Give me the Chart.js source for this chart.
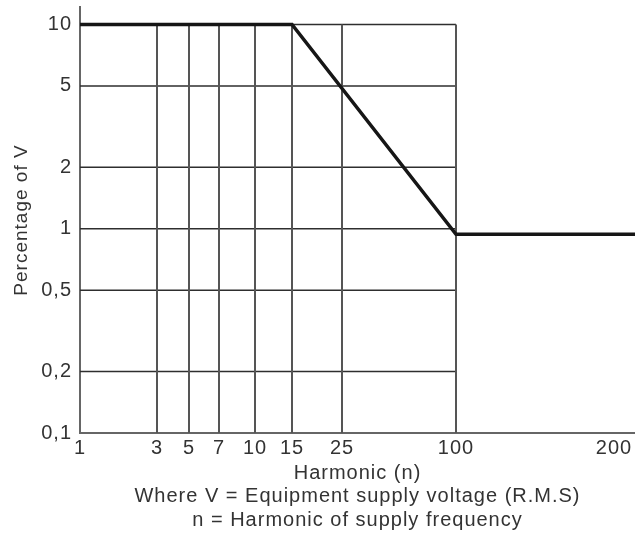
<!DOCTYPE html>
<html>
<head>
<meta charset="utf-8">
<script src="https://cdn.jsdelivr.net/npm/chart.js@4.4.1/dist/chart.umd.min.js"></script>
<style>
  html, body { margin: 0; padding: 0; background: #fff; }
  #wrap { width: 635px; height: 533px; }
</style>
</head>
<body>
<div id="wrap"><canvas id="limitChart"></canvas></div>
<script>
// harmonic limit curve (percentage of supply voltage)
var harmonic = [1, 15, 100, 212];
var percentOfV = [10, 10, 0.94, 0.94];

// x axis: tick labels and grid positions (harmonic order)
var xTicks = [1, 3, 5, 7, 10, 15, 25, 100, 200];
var xGrid = [1, 3, 5, 7, 10, 15, 25, 100];
// y axis: log ticks
var yTicks = [0.1, 0.2, 0.5, 1, 2, 5, 10];
var yTickLabels = ['0,1', '0,2', '0,5', '1', '2', '5', '10'];

// the original drawing does not space harmonics evenly on a log axis,
// so the x scale is piecewise: [value, share of axis width]
var xStops = [[1, 0], [3, 77/555], [5, 109/555], [7, 139/555], [10, 175/555],
              [15, 212/555], [25, 262/555], [100, 376/555], [200, 534/555], [212, 1]];

class PiecewiseScale extends Chart.LinearScale {
  toDecimal(v) {
    for (var i = 1; i < xStops.length; i++) {
      var a = xStops[i - 1], b = xStops[i];
      if (v <= b[0] || i === xStops.length - 1) {
        return a[1] + (v - a[0]) / (b[0] - a[0]) * (b[1] - a[1]);
      }
    }
    return 0;
  }
  getPixelForValue(value) {
    if (value === null || isNaN(value)) return NaN;
    return this.getPixelForDecimal(this.toDecimal(value));
  }
  getValueForPixel(pixel) {
    var d = this.getDecimalForPixel(pixel);
    for (var i = 1; i < xStops.length; i++) {
      var a = xStops[i - 1], b = xStops[i];
      if (d <= b[1] || i === xStops.length - 1) {
        return a[0] + (d - a[1]) / (b[1] - a[1]) * (b[0] - a[0]);
      }
    }
    return this.min;
  }
}
PiecewiseScale.id = 'piecewise';
PiecewiseScale.defaults = Chart.LinearScale.defaults;
Chart.register(PiecewiseScale);

// grid only covers the 1..100 / 0.1..10 box
var boxGrid = {
  id: 'boxGrid',
  beforeDatasetsDraw: function(chart) {
    var ctx = chart.ctx, x = chart.scales.x, y = chart.scales.y;
    var xl = x.getPixelForValue(xGrid[0]), xr = x.getPixelForValue(xGrid[xGrid.length - 1]);
    var yb = y.getPixelForValue(yTicks[0]), yt = y.getPixelForValue(yTicks[yTicks.length - 1]);
    ctx.save();
    ctx.strokeStyle = '#2e2e2e';
    ctx.lineWidth = 1.3;
    yTicks.slice(1).forEach(function(v) {
      var py = y.getPixelForValue(v);
      ctx.beginPath(); ctx.moveTo(xl, py); ctx.lineTo(xr, py); ctx.stroke();
    });
    ctx.strokeStyle = '#555';
    ctx.lineWidth = 2;
    xGrid.slice(1).forEach(function(v) {
      var px = x.getPixelForValue(v);
      ctx.beginPath(); ctx.moveTo(px, yt); ctx.lineTo(px, yb); ctx.stroke();
    });
    ctx.restore();
  }
};

// the scanned figure has wide lettering
var wideText = {
  id: 'wideText',
  beforeUpdate: function(chart) { chart.ctx.letterSpacing = '1px'; },
  beforeDraw: function(chart) { chart.ctx.letterSpacing = '1px'; }
};

Chart.defaults.font.family = '"Liberation Sans", Arial, sans-serif';
Chart.defaults.font.size = 20;
Chart.defaults.color = '#333';

var ctx = document.getElementById('limitChart');
new Chart(ctx, {
  type: 'line',
  data: {
    datasets: [{
      data: harmonic.map(function(h, i) { return {x: h, y: percentOfV[i]}; }),
      borderColor: '#161616',
      borderWidth: 3.5,
      pointRadius: 0,
      tension: 0,
      fill: false
    }]
  },
  options: {
    responsive: true,
    maintainAspectRatio: false,
    devicePixelRatio: 1,
    animation: false,
    layout: { padding: { top: 7, right: 0, bottom: 1.3, left: 0 } },
    plugins: { legend: { display: false }, tooltip: { enabled: false } },
    scales: {
      x: {
        type: 'piecewise',
        min: 1,
        max: 212,
        bounds: 'data',
        grid: { display: false, drawTicks: true, tickLength: 3 },
        border: { display: true, color: '#666', width: 2 },
        afterBuildTicks: function(s) { s.ticks = xTicks.map(function(v) { return {value: v}; }); },
        ticks: {
          autoSkip: false,
          maxRotation: 0,
          padding: 0,
          callback: function(v) { return String(v); }
        },
        title: {
          display: true,
          text: ['Harmonic (n)', 'Where V = Equipment supply voltage (R.M.S)', 'n = Harmonic of supply frequency'],
          font: { size: 20, lineHeight: 1.17 },
          padding: { top: 1.5, bottom: 0 }
        }
      },
      y: {
        type: 'logarithmic',
        min: 0.1,
        max: 12.18,
        grid: { display: false, drawTicks: true, tickLength: 8 },
        border: { display: true, color: '#666', width: 2 },
        afterBuildTicks: function(s) { s.ticks = yTicks.map(function(v) { return {value: v}; }); },
        ticks: {
          autoSkip: false,
          padding: 0,
          font: { size: 20, lineHeight: 0.5 },
          callback: function(v) { return yTickLabels[yTicks.indexOf(v)]; }
        },
        title: {
          display: true,
          text: 'Percentage of V',
          font: { size: 19 },
          padding: { top: 10.6, bottom: 7.8 }
        }
      }
    }
  },
  plugins: [wideText, boxGrid]
});
</script>
</body>
</html>
